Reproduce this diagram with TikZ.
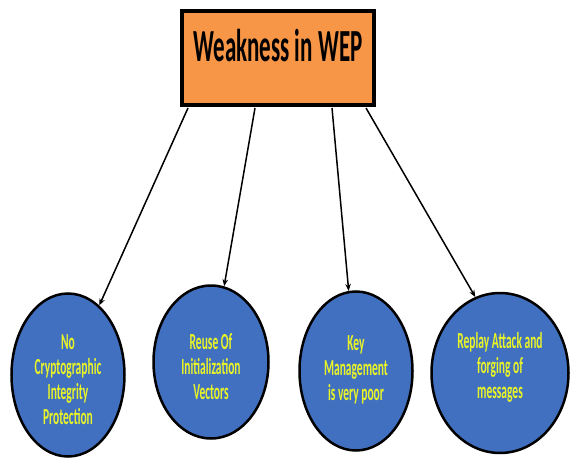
\documentclass[tikz,border=0pt]{standalone}
\usepackage{fontspec}
\setmainfont{Carlito}
\usetikzlibrary{shapes.geometric,arrows.meta}
\definecolor{boxorange}{RGB}{247,150,70}
\definecolor{ellblue}{RGB}{66,112,192}
\definecolor{txtyellow}{RGB}{232,244,40}
\newcommand{\tall}[1]{\scalebox{1}[2]{#1}}
\newcommand{\lines}[2][-6pt]{\raisebox{#1}[0pt][0pt]{\tall{\begin{tabular}{@{}c@{}}#2\end{tabular}}}}
\begin{document}
\begin{tikzpicture}[x=1pt, y=-1pt, >={Stealth[length=7pt,width=5.5pt]},
            weak/.style={ellipse, draw=black, line width=2.5pt, fill=ellblue,
                text=txtyellow, inner sep=0pt,
                font=\bfseries\fontsize{11.5}{12.5}\selectfont}]
            \useasboundingbox (0,0) rectangle (573,468);

            \node [draw, line width=3.5pt, fill=boxorange, minimum width=192pt,
                minimum height=94pt, text height=32pt, text depth=24pt,
                font=\bfseries\fontsize{23}{25}\selectfont] (W) at (278,58) {\tall{Weakness in WEP}};

            \node [weak, minimum width=113pt, minimum height=163pt] (E1) at (68,375)
                {\lines[-13pt]{No\\Cryptographic\\Integrity\\Protection}};
            \node [weak, minimum width=115pt, minimum height=153pt] (E2) at (211,362)
                {\lines[-13pt]{Reuse Of\\Initialization\\Vectors}};
            \node [weak, minimum width=113pt, minimum height=159pt] (E3) at (356,371)
                {\lines[-5pt]{Key\\Management\\is very poor}};
            \node [weak, minimum width=137pt, minimum height=160pt] (E4) at (500,373)
                {\lines[-1pt]{Replay Attack and\\forging of\\messages}};

            \coordinate (a1) at (188,108);
            \coordinate (a2) at (255,108);
            \coordinate (a3) at (332,108);
            \coordinate (a4) at (366,108);

            \draw [->, line width=1.5pt] (a1) -- (E1);
            \draw [->, line width=1.5pt] (a2) -- (E2);
            \draw [->, line width=1.5pt] (a3) -- (E3);
            \draw [->, line width=1.5pt] (a4) -- (E4.108);
        \end{tikzpicture}
\end{document}
